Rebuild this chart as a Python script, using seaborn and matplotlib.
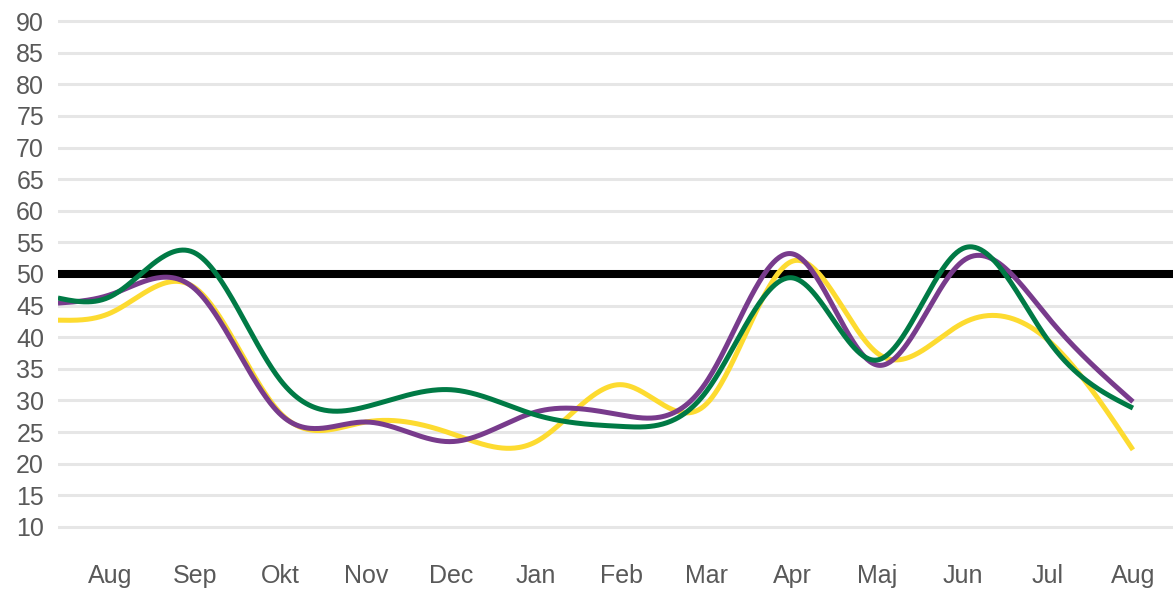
import numpy as np
import pandas as pd
import matplotlib
matplotlib.use("Agg")
import matplotlib.pyplot as plt
import seaborn as sns

# x positions of the observations in months (Aug = 0); the first one is mid-July
x_pos = [-0.61, 0, 1, 2, 3, 4, 5, 6, 7, 8, 9, 10, 11, 12]
tick_labels = ["Aug", "Sep", "Okt", "Nov", "Dec", "Jan", "Feb", "Mar", "Apr", "Maj", "Jun", "Jul", "Aug"]
green = [46.2, 46.4, 53.3, 33.2, 29.0, 31.7, 27.7, 25.9, 31.5, 49.4, 36.4, 54.0, 39.6, 28.8]
purple = [45.4, 46.7, 47.6, 27.8, 26.6, 23.5, 28.2, 27.7, 33.0, 53.2, 35.6, 52.0, 43.2, 29.8]
yellow = [42.7, 43.8, 47.8, 28.0, 26.6, 24.8, 23.5, 32.5, 29.5, 52.0, 37.5, 42.2, 39.6, 22.2]
series_names = ["Serie 1", "Serie 2", "Serie 3"]
series_colors = ["#007A45", "#783B8C", "#FDDB30"]
threshold = 50
y_ticks = list(range(10, 95, 5))


def smooth(xs, ys, n=60):
    """Natural cubic spline through the data points."""
    x = np.asarray(xs, float)
    y = np.asarray(ys, float)
    k = len(x)
    h = np.diff(x)
    A = np.zeros((k, k))
    b = np.zeros(k)
    A[0, 0] = A[-1, -1] = 1.0
    for i in range(1, k - 1):
        A[i, i - 1] = h[i - 1]
        A[i, i] = 2 * (h[i - 1] + h[i])
        A[i, i + 1] = h[i]
        b[i] = 6 * ((y[i + 1] - y[i]) / h[i] - (y[i] - y[i - 1]) / h[i - 1])
    M = np.linalg.solve(A, b)
    ox, oy = [], []
    for i in range(k - 1):
        xx = np.linspace(x[i], x[i + 1], n, endpoint=(i == k - 2))
        a = x[i + 1] - xx
        c = xx - x[i]
        s = (M[i] * a ** 3 / (6 * h[i]) + M[i + 1] * c ** 3 / (6 * h[i])
             + (y[i] / h[i] - M[i] * h[i] / 6) * a + (y[i + 1] / h[i] - M[i + 1] * h[i] / 6) * c)
        ox.append(xx)
        oy.append(s)
    return np.concatenate(ox), np.concatenate(oy)


frames = []
for name, vals in zip(series_names, [green, purple, yellow]):
    sx, sy = smooth(x_pos, vals)
    frames.append(pd.DataFrame({"x": sx, "y": sy, "serie": name}))
df = pd.concat(frames, ignore_index=True)

sns.set_style("white")
plt.rcParams["font.family"] = ["Liberation Sans", "DejaVu Sans"]

fig = plt.figure(figsize=(11.73, 5.89), dpi=100)
ax = fig.add_axes([0.0494, 0.0516, 0.9506, 0.9342])

for yt in y_ticks:
    ax.axhline(yt, color="#E6E6E6", lw=2.2, zorder=0)
ax.axhline(threshold, color="black", lw=5.8, zorder=1)

sns.lineplot(data=df, x="x", y="y", hue="serie", palette=dict(zip(series_names, series_colors)),
             hue_order=series_names[::-1], lw=3.6, legend=False, ax=ax, sort=False,
             estimator=None, zorder=3, solid_capstyle="butt")

ax.set_xlim(-0.61, 12.47)
ax.set_ylim(5, 92)
ax.set_xticks(range(len(tick_labels)))
ax.set_xticklabels(tick_labels)
ax.set_yticks(y_ticks)
ax.set_yticklabels([str(v) for v in y_ticks])
ax.tick_params(axis="both", length=0, labelsize=18, labelcolor="#595959")
ax.tick_params(axis="y", pad=10)
ax.tick_params(axis="x", pad=4)
ax.set_xlabel("")
ax.set_ylabel("")
for s in ax.spines.values():
    s.set_visible(False)
ax.grid(False)

fig.savefig("out.png", dpi=100)
